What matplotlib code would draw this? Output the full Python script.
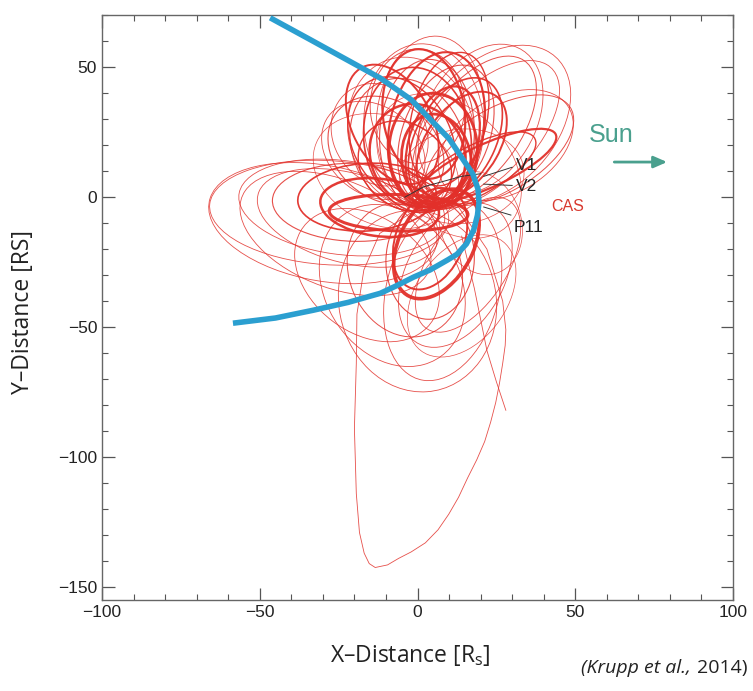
import matplotlib
matplotlib.use("Agg")
import matplotlib.pyplot as plt
from matplotlib.patches import Ellipse
from matplotlib.ticker import MultipleLocator

plt.rcParams['font.family'] = ['Liberation Sans', 'DejaVu Sans']
plt.rcParams['mathtext.fontset'] = 'custom'
plt.rcParams['mathtext.rm'] = 'Open Sans'

# magnetopause (blue curve)
mp_x = [-46.7, -34, -22, -11.8, -2, 4, 10, 14.6, 17.5, 19.2, 19.5, 19, 17.8, 15.5, 12.5, 9.5,
        4, -1.3, -6.5, -11.8, -22, -33, -45, -58.5]
mp_y = [69, 60.6, 52.6, 45.8, 37.5, 30, 22.5, 14.2, 9, 3, -2, -7, -12.7, -18, -22, -24.2,
        -28, -30.8, -34, -37, -40.5, -43.5, -46.5, -48.5]

# Cassini orbit loops: centre, major axis, minor axis, tilt [deg], line width
orb_cx = [0, 3, -3, 6, 9, 2, -5, 12, 5, 0, 8, -2, 4,
          -8, 2, 10, -10, 6, 14, -4, 0, -12,
          18, 22, 24, 20, 26, 28,
          -28, -24, -30, -20, -16, -22, -26, -12, -6,
          -8, 8, 0, -16, 12, -4, 16, 4,
          6, 4,
          22, 18,
          10, -10, 14, -14, 20, 14]
orb_cy = [22, 24, 20, 26, 24, 28, 22, 22, 18, 16, 20, 25, 30,
          28, 32, 30, 18, 14, 20, 12, 35, 24,
          26, 24, 28, 30, 18, 20,
          -6, -4, -10, -2, 0, -8, -14, -4, -6,
          -34, -36, -40, -30, -30, -28, -26, -24,
          -18, -16,
          12, 10,
          12, 10, 8, 18, -10, -38]
orb_w = [56, 58, 52, 60, 55, 62, 50, 50, 44, 40, 46, 58, 64,
         48, 50, 52, 44, 36, 44, 36, 44, 40,
         62, 66, 66, 60, 56, 50,
         76, 66, 74, 52, 44, 60, 66, 38, 44,
         64, 70, 70, 56, 58, 52, 56, 46,
         44, 40,
         50, 46,
         60, 50, 40, 40, 40, 50]
orb_h = [34, 30, 36, 30, 28, 38, 32, 26, 28, 30, 22, 40, 34,
         26, 26, 24, 34, 22, 24, 28, 30, 30,
         30, 32, 42, 36, 30, 34,
         40, 36, 44, 30, 26, 34, 40, 22, 14,
         44, 36, 50, 40, 32, 36, 26, 28,
         24, 22,
         16, 18,
         40, 40, 36, 30, 26, 30]
orb_ang = [95, 88, 102, 82, 75, 92, 108, 70, 90, 100, 78, 98, 86,
           110, 95, 80, 120, 95, 65, 115, 90, 105,
           62, 55, 60, 70, 40, 45,
           175, 170, 165, 178, 5, 160, 150, 170, 178,
           108, 80, 95, 125, 70, 100, 65, 88,
           70, 75,
           30, 35,
           120, 140, 20, 120, 100, 65]
orb_lw = [1.2, 0.8, 0.8, 1.5, 0.8, 0.6, 1.0, 1.2, 2.0, 1.8, 1.6, 0.6, 0.6,
          1.4, 1.6, 1.0, 0.8, 2.0, 1.4, 1.0, 0.7, 0.6,
          0.7, 0.6, 0.6, 0.6, 0.7, 0.6,
          0.6, 0.6, 0.6, 0.8, 1.2, 0.6, 0.6, 1.8, 2.2,
          0.6, 0.6, 0.6, 0.6, 0.6, 0.7, 0.6, 0.8,
          2.6, 1.4,
          1.6, 1.0,
          0.5, 0.5, 0.5, 0.6, 0.5, 0.5]

# long loop reaching down to -143 Rs
big_x = [12, -2, -12, -17, -19.2, -19.4, -20, -19.4, -18.4, -16.9, -15.3, -13.4, -9.5, -6,
         -2, 2.5, 6.5, 9.9, 13, 15.9, 18.8, 21.3, 23.2, 24.8, 26, 27, 27.8, 28, 27, 22, 12]
big_y = [-2, -6, -14, -28, -45, -64, -89, -114, -129, -137, -141, -142.5, -141.5, -139,
         -136.5, -133, -128, -122, -115.5, -108, -101, -94, -86.5, -79, -71.5, -64, -57, -51, -40, -20, -2]

# open trajectory ending near (28, -82)
open_x = [14, 18, 22, 25, 28]
open_y = [-15, -35, -59, -71, -82]

# flyby tracks (dark) and label leaders
fly_x = [-4, 2, 8, 14, 20]
fly_y = [0, 4, 6, 8, 9]
labels = ['V1', 'V2', 'P11']
lab_x = [31.2, 31.2, 30.5]
lab_y = [12, 4.2, -11.5]
lead_x0 = [21, 21, 21]
lead_y0 = [8, 5, -3.8]
lead_x1 = [30, 30, 29.6]
lead_y1 = [11.5, 4.5, -6.9]

fig = plt.figure(figsize=(7.53, 6.91), dpi=100)
ax = fig.add_axes([0.1355, 0.1317, 0.8379, 0.8463])

red = '#e2302a'
for cx, cy, w, h, a, lw in zip(orb_cx, orb_cy, orb_w, orb_h, orb_ang, orb_lw):
    ax.add_patch(Ellipse((cx, cy), w, h, angle=a, fill=False,
                         edgecolor=red, lw=lw, alpha=0.85 if lw < 1 else 0.95))
ax.plot(big_x, big_y, color=red, lw=0.6, alpha=0.85)
ax.plot(open_x, open_y, color=red, lw=0.6, alpha=0.85)

ax.plot(fly_x, fly_y, color='#333333', lw=0.7)
for x0, y0, x1, y1 in zip(lead_x0, lead_y0, lead_x1, lead_y1):
    ax.plot([x0, x1], [y0, y1], color='#333333', lw=0.7)
for t, x, y in zip(labels, lab_x, lab_y):
    ax.text(x, y, t, fontsize=12.5, color='#222222', va='center', ha='left')
ax.text(42.3, -3.5, 'CAS', fontsize=11.5, color='#d83a30', va='center', ha='left')

ax.plot(mp_x, mp_y, color='#2b9fd0', lw=4, solid_capstyle='butt', zorder=5)

ax.text(61.4, 24, 'Sun', fontsize=18, color='#4aa08e', ha='center', va='center')
ax.annotate('', xy=(80, 13.5), xytext=(61.5, 13.5),
            arrowprops=dict(arrowstyle='-|>,head_width=0.35,head_length=0.8',
                            color='#4aa08e', lw=2))

ax.set_xlim(-100, 100)
ax.set_ylim(-155, 70)
ax.xaxis.set_major_locator(MultipleLocator(50))
ax.xaxis.set_minor_locator(MultipleLocator(10))
ax.yaxis.set_major_locator(MultipleLocator(50))
ax.yaxis.set_minor_locator(MultipleLocator(10))
ax.tick_params(which='both', direction='in', top=True, right=True,
               colors='#555555', labelcolor='#222222', labelsize=12.5)
ax.tick_params(which='major', length=9, width=0.9)
ax.tick_params(which='minor', length=4.5, width=0.8)
for s in ax.spines.values():
    s.set_color('#666666')
    s.set_linewidth(1.0)

fig.text(0.545, 0.051, 'X\u2013Distance [R$_\\mathrm{s}$]', fontsize=16.5,
         family='Open Sans', ha='center', va='center', color='#222222')
fig.text(0.031, 0.548, 'Y\u2013Distance [RS]', fontsize=16.5, rotation=90,
         family='Open Sans', ha='center', va='center', color='#222222')
fig.text(0.918, 0.033, '(Krupp et al.,', fontsize=14, style='italic',
         family='Open Sans', ha='right', va='center', color='#222222')
fig.text(0.925, 0.033, '2014)', fontsize=14,
         family='Open Sans', ha='left', va='center', color='#222222')

fig.savefig('out.png', dpi=100, facecolor='white')
